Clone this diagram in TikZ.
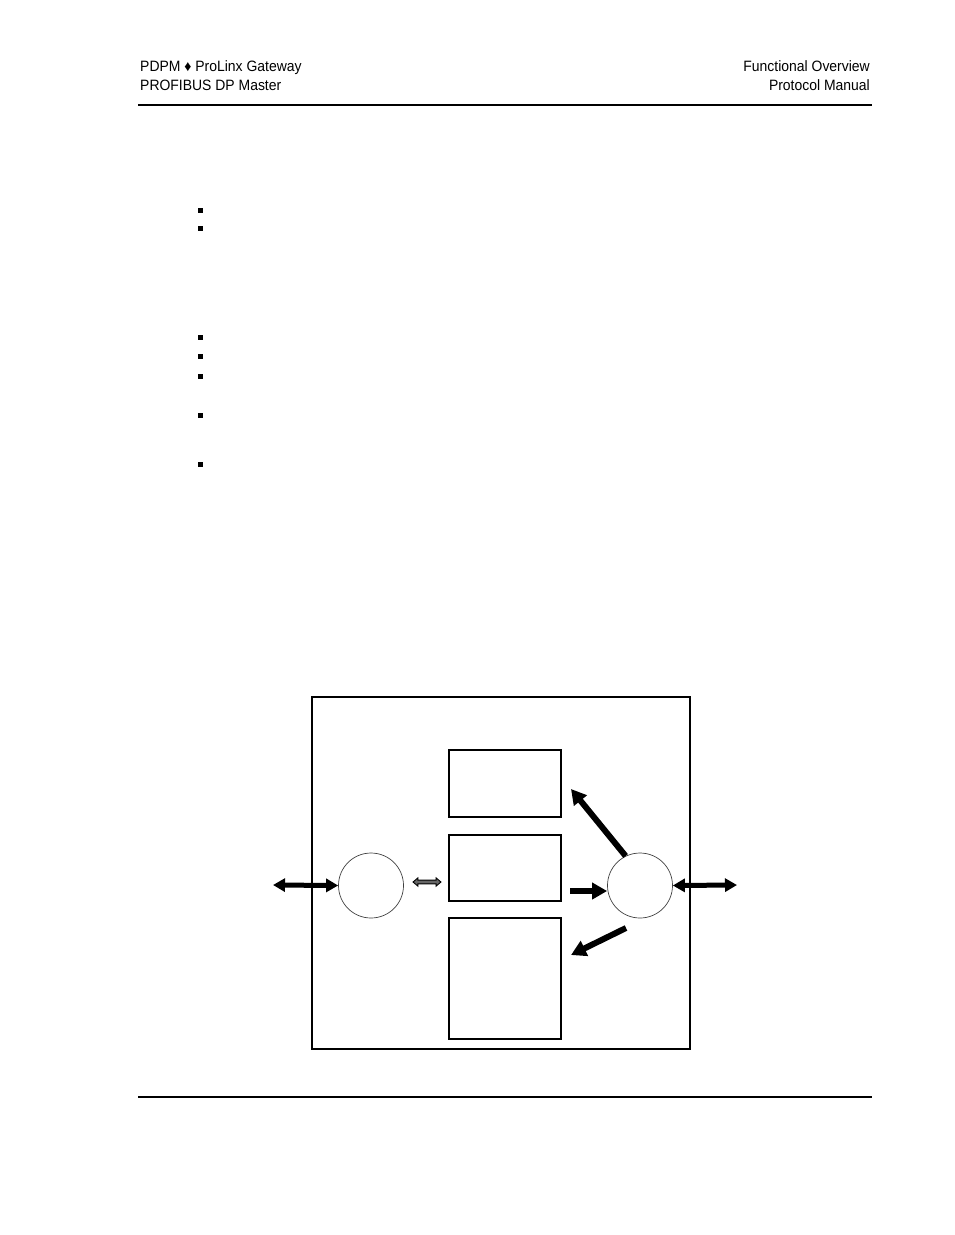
\documentclass[tikz,border=0pt]{standalone}
\usepackage{fontspec}
\newfontfamily\hdrfont[FakeStretch=0.93]{Liberation Sans}
\usetikzlibrary{arrows.meta,shapes.arrows}
\begin{document}
\begin{tikzpicture}[x=1pt,y=-1pt,
  hdr/.style={font=\hdrfont\fontsize{15}{18}\selectfont, inner sep=0pt},
  rule/.style={line width=1.1pt},
  bul/.style={fill=black, minimum size=5pt, inner sep=0pt, draw=none},
  memblock/.style={draw, line width=1.2pt, minimum width=112pt, inner sep=0pt},
  drv/.style={circle, draw=black!75, line width=0.7pt, minimum size=65pt, inner sep=0pt},
  bigdbl/.style={line width=5pt, {Triangle[length=12pt,width=13pt]}-{Triangle[length=12pt,width=13pt]}},
  bigone/.style={line width=6pt, -{Triangle[length=15pt,width=16pt]}},
  smalldbl/.style={double arrow, draw, fill=black!60, line width=0.9pt, inner sep=1.4pt,
     minimum height=28pt, double arrow head extend=2.2pt, double arrow tip angle=80}
]
\useasboundingbox (0,0) rectangle (954,1235);
% header
\node[hdr, anchor=base west] (h1) at (140,71.3) {PDPM ♦ ProLinx Gateway};
\node[hdr, anchor=base west] (h2) at (140,90.3) {PROFIBUS DP Master};
\node[hdr, anchor=base east] (h3) at (870,71.3) {Functional Overview};
\node[hdr, anchor=base east] (h4) at (870,90.3) {Protocol Manual};
\coordinate (r1a) at (138,105); \coordinate (r1b) at (872,105);
\draw[rule] (r1a) -- (r1b);
\coordinate (r2a) at (138,1097); \coordinate (r2b) at (872,1097);
\draw[rule] (r2a) -- (r2b);
% bullets
\node[bul] (b1) at (200,210) {};
\node[bul] (b2) at (200,228.5) {};
\node[bul] (b3) at (200,337) {};
\node[bul] (b4) at (200,356.5) {};
\node[bul] (b5) at (200,376.5) {};
\node[bul] (b6) at (200,415.5) {};
\node[bul] (b7) at (200,464.5) {};
% diagram
\node[draw, line width=1.1pt, minimum width=378pt, minimum height=352pt, inner sep=0pt] (frame) at (501,873) {};
\node[memblock, minimum height=67pt] (m1) at (505,783.5) {};
\node[memblock, minimum height=66pt] (m2) at (505,868) {};
\node[memblock, minimum height=121pt] (m3) at (505,978.5) {};
\node[drv] (lc) at (371,885.5) {};
\node[drv] (rc) at (640,885.5) {};
% arrows
\coordinate (lend) at (273,885);
\draw[bigdbl] (lend) -- (lc.west);
\coordinate (rend) at (737,885);
\draw[bigdbl] (rc.east) -- (rend);
\node[smalldbl] (sd) at (427,882) {};
\coordinate (mstart) at (570,891);
\draw[bigone] (mstart) -- (rc.west|-mstart);
\coordinate (utip) at (571,789);
\draw[bigone] (rc.116) -- (utip);
\coordinate (lstart) at (626,928);
\coordinate (ltip) at (571,955);
\draw[bigone] (lstart) -- (ltip);
\end{tikzpicture}
\end{document}
